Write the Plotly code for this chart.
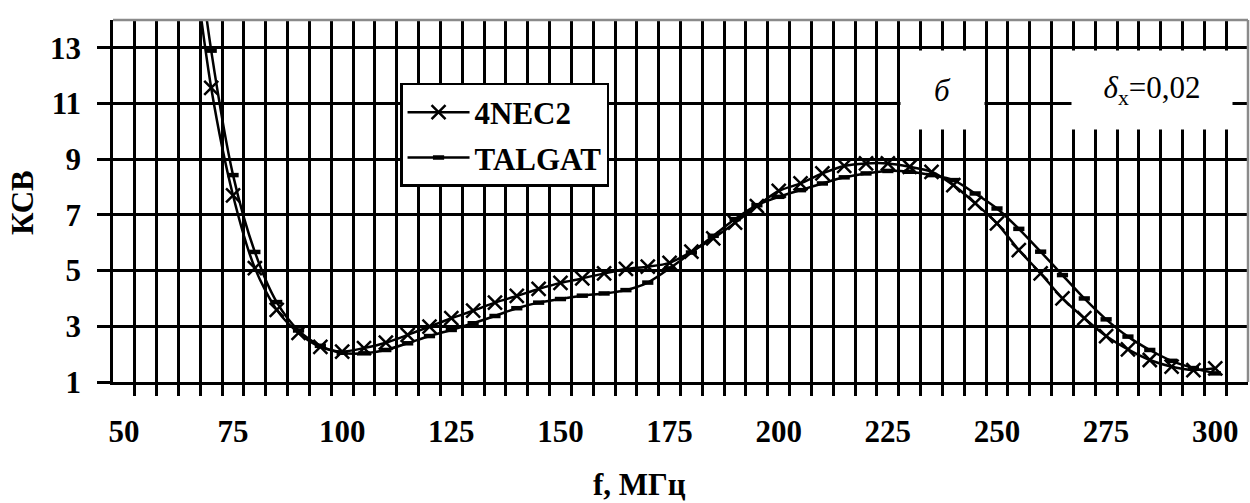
import plotly.graph_objects as go

freq = list(range(65, 305, 5))
nec2 = [17.4, 11.56, 7.7, 5.09, 3.59, 2.76, 2.26, 2.09,
        2.22, 2.41, 2.69, 2.99, 3.29, 3.56, 3.85, 4.09, 4.34, 4.56,
        4.72, 4.90, 5.06, 5.14, 5.28, 5.68, 6.16, 6.72, 7.32, 7.86,
        8.13, 8.49, 8.76, 8.85, 8.85, 8.73, 8.55, 8.07, 7.42, 6.70,
        5.74, 4.90, 4.00, 3.29, 2.65, 2.17, 1.79, 1.55, 1.43, 1.49]
talgat = [18.9, 12.9, 8.43, 5.67, 3.87, 2.85, 2.30, 2.05,
          2.03, 2.15, 2.39, 2.65, 2.87, 3.11, 3.37, 3.65, 3.85, 3.98,
          4.10, 4.18, 4.30, 4.57, 5.08, 5.65, 6.25, 6.85, 7.35, 7.65,
          7.89, 8.13, 8.35, 8.49, 8.58, 8.55, 8.43, 8.25, 7.77, 7.23,
          6.50, 5.68, 4.84, 4.00, 3.25, 2.63, 2.15, 1.76, 1.50, 1.31]

x_ticks = [50, 75, 100, 125, 150, 175, 200, 225, 250, 275, 300]
x_grid = [52.5 + 5 * i for i in range(51)]
y_ticks = [1, 3, 5, 7, 9, 11, 13]

FONT = "Liberation Serif, Times New Roman, serif"

fig = go.Figure()
fig.add_trace(go.Scatter(
    x=freq, y=nec2, name="4NEC2", mode="lines+markers",
    line=dict(color="black", width=2.5, shape="spline", smoothing=0.8),
    marker=dict(symbol="x-thin", size=14, line=dict(color="black", width=2.5)),
    legendgroup="a",
))
fig.add_trace(go.Scatter(
    x=freq, y=talgat, name="TALGAT", mode="lines+markers",
    line=dict(color="black", width=2.5, shape="spline", smoothing=0.8),
    marker=dict(symbol="line-ew", size=8, line=dict(color="black", width=4.5)),
    legendgroup="b",
))

fig.update_layout(
    width=1250, height=503,
    margin=dict(l=113, r=2, t=20, b=121),
    paper_bgcolor="white", plot_bgcolor="white",
    font=dict(family=FONT, size=31, color="black"),
    showlegend=True,
    legend=dict(
        x=0.2529, y=0.826, xanchor="left", yanchor="top",
        bgcolor="white", bordercolor="black", borderwidth=2.5,
        font=dict(family=FONT, size=31, color="black", weight="bold"),
        itemwidth=62, tracegroupgap=2, traceorder="grouped",
        entrywidth=150, entrywidthmode="pixels",
    ),
    xaxis=dict(
        range=[47.5, 307.5], tickmode="array", tickvals=x_ticks,
        ticktext=[str(v) for v in x_ticks],
        ticks="", showgrid=False, zeroline=False,
        showline=True, linecolor="black", linewidth=2.5,
        tickfont=dict(family=FONT, size=31, color="black", weight="bold"),
        ticklabelstandoff=20,
        minor=dict(tickmode="array", tickvals=x_grid, ticks="outside",
                   ticklen=11, tickwidth=2.5, tickcolor="black",
                   showgrid=True, gridcolor="black", gridwidth=2.5),
    ),
    yaxis=dict(
        range=[1, 14], tickmode="array", tickvals=y_ticks,
        ticks="outside", ticklen=13, tickwidth=2.5, tickcolor="black",
        showgrid=True, gridcolor="black", gridwidth=2.5, zeroline=False,
        showline=True, linecolor="black", linewidth=2.5,
        tickfont=dict(family=FONT, size=31, color="black", weight="bold"),
        ticklabelstandoff=10,
    ),
)

# gray top/right border of the plot area
fig.add_shape(type="line", xref="paper", yref="paper", x0=0, x1=1, y0=1, y1=1,
              line=dict(color="#8a8a8a", width=2.5))
fig.add_shape(type="line", xref="paper", yref="paper", x0=1, x1=1, y0=0, y1=1,
              line=dict(color="#8a8a8a", width=2.5))

# axis titles
fig.add_annotation(text="<b>f, МГц</b>", xref="paper", yref="paper",
                   x=0.464, y=-0.2845, xanchor="center", yanchor="middle",
                   showarrow=False, font=dict(family=FONT, size=31, color="black"))
fig.add_annotation(text="<b>КСВ</b>", xref="paper", yref="paper",
                   x=-0.0802, y=0.497, xanchor="center", yanchor="middle",
                   textangle=-90, showarrow=False,
                   font=dict(family=FONT, size=31, color="black"))

# labels with white boxes
fig.add_annotation(text="<i>б</i>", xref="paper", yref="paper",
                   x=0.7308, y=0.8066, xanchor="center", yanchor="middle",
                   width=83, height=78, bgcolor="white", borderpad=0,
                   showarrow=False, font=dict(family=FONT, size=31, color="black"))
fig.add_annotation(text="<i>δ</i><sub>x</sub>=0,02", xref="paper", yref="paper",
                   x=0.9154, y=0.8066, xanchor="center", yanchor="middle",
                   width=160, height=78, bgcolor="white", borderpad=0,
                   showarrow=False, font=dict(family=FONT, size=31, color="black"))

fig.write_html("out.html")
